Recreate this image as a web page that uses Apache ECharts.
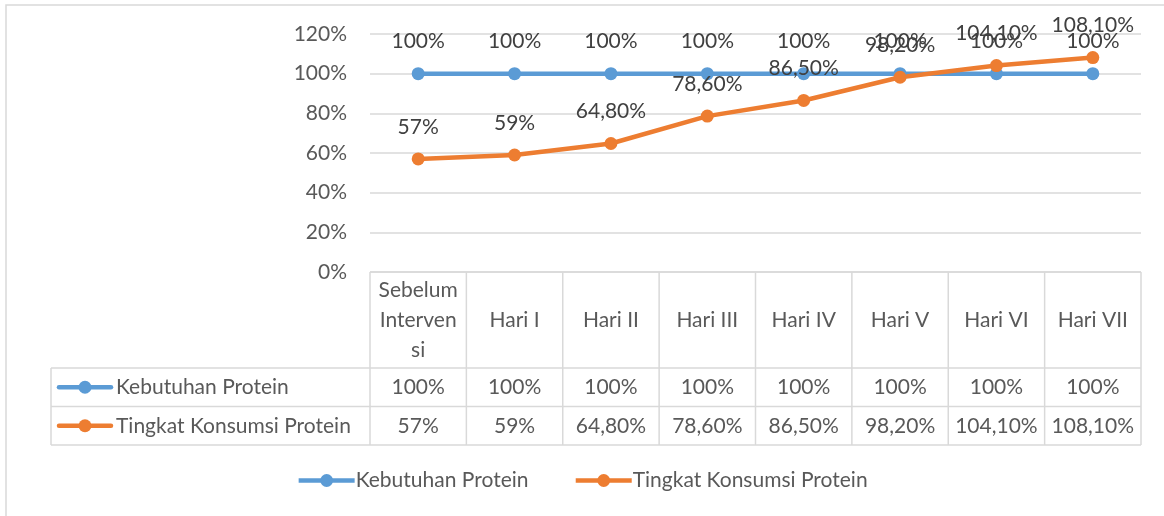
<!DOCTYPE html>
<html>
<head>
<meta charset="utf-8">
<script src="https://cdn.jsdelivr.net/npm/echarts@6/dist/echarts.min.js"></script>
<style>
html,body{margin:0;padding:0;background:#fff;}
#c{width:1164px;height:516px;}
</style>
</head>
<body>
<div id="c"></div>
<script>
var categories = ['Sebelum Intervensi', 'Hari I', 'Hari II', 'Hari III', 'Hari IV', 'Hari V', 'Hari VI', 'Hari VII'];
var seriesNames = ['Kebutuhan Protein', 'Tingkat Konsumsi Protein'];
var kebutuhan = [100, 100, 100, 100, 100, 100, 100, 100];
var konsumsi = [57, 59, 64.8, 78.6, 86.5, 98.2, 104.1, 108.1];
var yTicks = [0, 20, 40, 60, 80, 100, 120];
var colors = ['#5B9BD5', '#ED7D31'];

var FONT = 'Lato';
var FS = 21;
var TXT = '#595959';
var GRID = '#D9D9D9';

function fmt(v) {
  return (Number.isInteger(v) ? String(v) : v.toFixed(2).replace('.', ',')) + '%';
}

// word wrap that breaks over-long words by character (like a spreadsheet cell)
var mctx = document.createElement('canvas').getContext('2d');
function wrap(text, font, maxW) {
  mctx.font = font;
  var words = text.split(' '), lines = [], cur = '';
  words.forEach(function (w) {
    var cand = cur ? cur + ' ' + w : w;
    if (mctx.measureText(cand).width <= maxW) { cur = cand; return; }
    if (cur) { lines.push(cur); cur = ''; }
    while (mctx.measureText(w).width > maxW) {
      var k = w.length;
      while (k > 1 && mctx.measureText(w.slice(0, k)).width > maxW) k--;
      lines.push(w.slice(0, k));
      w = w.slice(k);
    }
    cur = w;
  });
  if (cur) lines.push(cur);
  return lines.join('\n');
}

var chart = echarts.init(document.getElementById('c'));
var gridLeft = 370, gridRight = 23, gridTop = 34, gridBottom = 244;

var option = {
  animation: false,
  textStyle: { fontFamily: FONT },
  grid: { left: gridLeft, right: gridRight, top: gridTop, bottom: gridBottom },
  xAxis: {
    type: 'category',
    data: categories,
    boundaryGap: true,
    axisLine: { show: false },
    axisTick: { show: false },
    axisLabel: { show: false },
    splitLine: { show: false }
  },
  yAxis: {
    type: 'value',
    min: yTicks[0],
    max: yTicks[yTicks.length - 1],
    interval: yTicks[1] - yTicks[0],
    axisLine: { show: false },
    axisTick: { show: false },
    axisLabel: {
      formatter: function (v) { return v + '%'; },
      color: TXT, fontSize: FS, fontFamily: FONT, margin: 23
    },
    splitLine: { lineStyle: { color: GRID, width: 1.5 } }
  },
  legend: {
    bottom: 20,
    left: 'center',
    itemWidth: 56,
    itemHeight: 16,
    itemGap: 45,
    lineStyle: { width: 4.5 },
    textStyle: { color: TXT, fontSize: FS, fontFamily: FONT, padding: [0, 0, 0, -4] },
    data: seriesNames
  },
  series: [
    {
      name: seriesNames[0], type: 'line', data: kebutuhan,
      color: colors[0],
      symbol: 'circle', symbolSize: 13,
      lineStyle: { width: 4.5, color: colors[0] },
      itemStyle: { color: colors[0] },
      label: { show: true, position: 'top', distance: 15, color: '#404040', fontSize: FS, fontFamily: FONT, formatter: function (p) { return fmt(p.value); } }
    },
    {
      name: seriesNames[1], type: 'line', data: konsumsi,
      color: colors[1],
      symbol: 'circle', symbolSize: 13,
      lineStyle: { width: 4.5, color: colors[1] },
      itemStyle: { color: colors[1] },
      label: { show: true, position: 'top', distance: 15, color: '#404040', fontSize: FS, fontFamily: FONT, formatter: function (p) { return fmt(p.value); } }
    }
  ]
};
chart.setOption(option);

// Build the data table below the plot
var plotLeft = gridLeft, plotRight = 1164 - gridRight;
var y0 = chart.convertToPixel({ yAxisIndex: 0 }, 0);
var colW = (plotRight - plotLeft) / categories.length;
var headerBottom = y0 + 96;
var rowH = 38.5;
var tableLeft = 51;
var tableBottom = headerBottom + rowH * 2;
var els = [];
var lineStyle = { stroke: GRID, lineWidth: 1.5 };
var font = FS + 'px "' + FONT + '"';

// outer chart border
els.push({ type: 'rect', shape: { x: 6, y: 5, width: 1200, height: 600 }, style: { fill: null, stroke: GRID, lineWidth: 1.5 }, silent: true });

// horizontal lines
els.push({ type: 'line', shape: { x1: plotLeft, y1: y0, x2: plotRight, y2: y0 }, style: lineStyle });
els.push({ type: 'line', shape: { x1: tableLeft, y1: headerBottom, x2: plotRight, y2: headerBottom }, style: lineStyle });
els.push({ type: 'line', shape: { x1: tableLeft, y1: headerBottom + rowH, x2: plotRight, y2: headerBottom + rowH }, style: lineStyle });
els.push({ type: 'line', shape: { x1: tableLeft, y1: tableBottom, x2: plotRight, y2: tableBottom }, style: lineStyle });
// vertical lines
els.push({ type: 'line', shape: { x1: tableLeft, y1: headerBottom, x2: tableLeft, y2: tableBottom }, style: lineStyle });
for (var i = 0; i <= categories.length; i++) {
  var x = plotLeft + i * colW;
  els.push({ type: 'line', shape: { x1: x, y1: y0, x2: x, y2: tableBottom }, style: lineStyle });
}
// header texts
categories.forEach(function (c, i) {
  var cx = chart.convertToPixel({ xAxisIndex: 0 }, c);
  els.push({
    type: 'text', x: cx, y: (y0 + headerBottom) / 2,
    style: { text: wrap(c, font, 80), lineHeight: 30, fill: TXT, font: font, align: 'center', verticalAlign: 'middle' }
  });
});
// rows
var rows = [kebutuhan, konsumsi];
rows.forEach(function (vals, r) {
  var cy = headerBottom + rowH * r + rowH / 2;
  // legend key
  els.push({ type: 'line', shape: { x1: 59, y1: cy, x2: 111, y2: cy }, style: { stroke: colors[r], lineWidth: 4.5, lineCap: 'round' } });
  els.push({ type: 'circle', shape: { cx: 85, cy: cy, r: 6.5 }, style: { fill: colors[r] } });
  els.push({ type: 'text', x: 116, y: cy, style: { text: seriesNames[r], fill: TXT, font: font, align: 'left', verticalAlign: 'middle' } });
  vals.forEach(function (v, i) {
    var cx = chart.convertToPixel({ xAxisIndex: 0 }, categories[i]);
    els.push({ type: 'text', x: cx, y: cy, style: { text: fmt(v), fill: TXT, font: font, align: 'center', verticalAlign: 'middle' } });
  });
});
chart.setOption({ graphic: { elements: els } });
</script>
</body>
</html>
